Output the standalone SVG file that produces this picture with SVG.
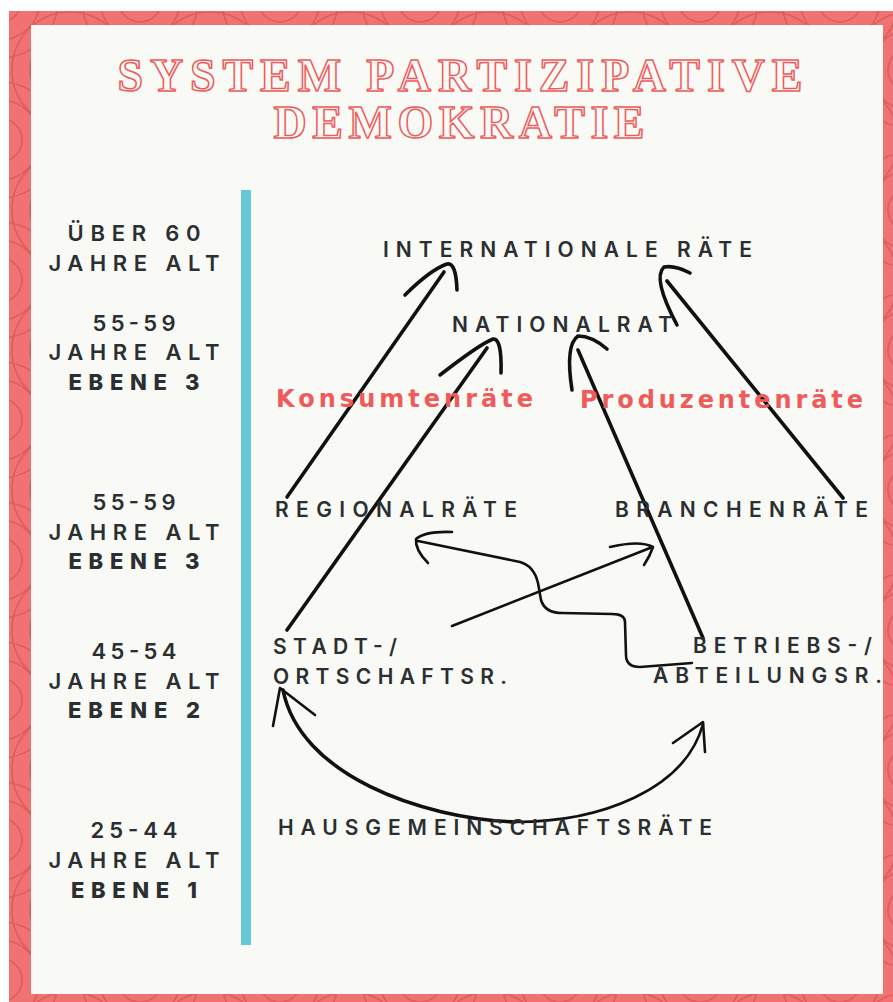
<svg xmlns="http://www.w3.org/2000/svg" width="893" height="1002" viewBox="0 0 893 1002">
<defs>
<pattern id="rings" x="0" y="0" width="140" height="140" patternUnits="userSpaceOnUse">
<rect width="140" height="140" fill="#f07272"/>
<g fill="none" stroke="#d85656" stroke-width="1.6" opacity="0.8">
<circle cx="70" cy="70" r="22"/><circle cx="70" cy="70" r="40"/><circle cx="70" cy="70" r="58"/>
<circle cx="0" cy="0" r="22"/><circle cx="0" cy="0" r="40"/><circle cx="0" cy="0" r="58"/>
<circle cx="140" cy="0" r="22"/><circle cx="140" cy="0" r="40"/><circle cx="140" cy="0" r="58"/>
<circle cx="0" cy="140" r="22"/><circle cx="0" cy="140" r="40"/><circle cx="0" cy="140" r="58"/>
<circle cx="140" cy="140" r="22"/><circle cx="140" cy="140" r="40"/><circle cx="140" cy="140" r="58"/>
</g>
</pattern>
<style>
.lab{font-family:"Inter","Open Sans","Liberation Sans",sans-serif;font-size:22px;fill:#2b2f31;text-anchor:middle}
.s{font-weight:600}
.b{font-weight:800}
.node{font-family:"Inter","Open Sans","Liberation Sans",sans-serif;font-size:21px;font-weight:600;fill:#2b2f31}
.red{font-family:"DejaVu Sans","Liberation Sans",sans-serif;font-size:24px;font-weight:700;fill:#ef5a5a}
.title{font-family:"Liberation Serif","DejaVu Serif",serif;font-size:46px;font-weight:700;fill:#f9faf6;stroke:#ee5b5b;stroke-width:1.5;text-anchor:middle}
.ln{fill:none;stroke:#111;stroke-width:3.6;stroke-linecap:round;stroke-linejoin:round}
.thin{stroke-width:2.6}
</style>
</defs>
<rect x="0" y="0" width="893" height="1002" fill="#ffffff"/>
<rect x="9" y="11" width="884" height="991" fill="url(#rings)"/>
<rect x="31" y="25" width="852" height="969" fill="#f9faf6"/>

<g id="title">
<text class="title" x="460" y="91" textLength="685" lengthAdjust="spacing">SYSTEM PARTIZIPATIVE</text>
<text class="title" x="459" y="138" textLength="371" lengthAdjust="spacing">DEMOKRATIE</text>
</g>

<rect id="axis" x="241" y="190" width="10" height="755" fill="#67c8d5"/>

<g id="age-labels">
<text class="lab s" x="134" y="241" textLength="133">ÜBER 60</text>
<text class="lab s" x="134" y="271" textLength="171">JAHRE ALT</text>
<text class="lab s" x="134" y="331" textLength="83">55-59</text>
<text class="lab s" x="134" y="360" textLength="171">JAHRE ALT</text>
<text class="lab b" x="134" y="390" textLength="131">EBENE 3</text>
<text class="lab s" x="134" y="510" textLength="83">55-59</text>
<text class="lab s" x="134" y="540" textLength="171">JAHRE ALT</text>
<text class="lab b" x="134" y="569" textLength="131">EBENE 3</text>
<text class="lab s" x="134" y="659" textLength="85">45-54</text>
<text class="lab s" x="134" y="689" textLength="171">JAHRE ALT</text>
<text class="lab b" x="134" y="718" textLength="132">EBENE 2</text>
<text class="lab s" x="134" y="838" textLength="87">25-44</text>
<text class="lab s" x="134" y="868" textLength="171">JAHRE ALT</text>
<text class="lab b" x="134" y="898" textLength="126">EBENE 1</text>
</g>

<g id="connectors">
<path class="ln" d="M287,497 L444,272"/>
<path class="ln" d="M405,295 Q430,270 447,264 Q456,262 457,290"/>
<path class="ln" d="M287,630 L487,348"/>
<path class="ln" d="M440,375 Q480,344 493,339 Q502,338 501,373"/>
<path class="ln" d="M703,638 L578,350"/>
<path class="ln" d="M572,390 Q565,345 578,336 Q592,336 607,349"/>
<path class="ln" d="M843,498 L667,281"/>
<path class="ln" d="M677,325 Q652,278 664,267 Q675,265 690,273"/>
<path class="ln thin" d="M692,663 L640,667 Q626,667 626,655 L625,622 Q625,614 612,614 L562,613 Q545,613 541,600 L538,583 Q534,566 520,562 L418,541"/>
<path class="ln thin" d="M452,532 Q425,531 416,539 Q415,550 428,563"/>
<path class="ln thin" d="M452,626 L650,548"/>
<path class="ln thin" d="M610,547 Q640,540 653,547 Q650,556 644,565"/>
<path class="ln" d="M515,822 C420,818 300,775 283,690"/>
<path class="ln thin" d="M273,726 L280,688 L315,715"/>
<path class="ln thin" d="M515,822 C600,822 685,790 703,724"/>
<path class="ln thin" d="M673,743 L703,722 L705,752"/>
</g>

<g id="node-international"><text class="node" x="383" y="257" textLength="369">INTERNATIONALE RÄTE</text></g>
<g id="node-national"><text class="node" x="452" y="332" textLength="220">NATIONALRAT</text></g>
<g id="label-konsum"><text class="red" x="276" y="407" textLength="257">Konsumtenräte</text></g>
<g id="label-produzent"><text class="red" x="580" y="408" textLength="283">Produzentenräte</text></g>
<g id="node-regional"><text class="node" x="275" y="517" textLength="242">REGIONALRÄTE</text></g>
<g id="node-branchen"><text class="node" x="615" y="517" textLength="253">BRANCHENRÄTE</text></g>
<g id="node-stadt">
<text class="node" x="273" y="654" textLength="124">STADT-/</text>
<text class="node" x="273" y="684" textLength="234">ORTSCHAFTSR.</text>
</g>
<g id="node-betrieb">
<text class="node" x="693" y="653" textLength="179">BETRIEBS-/</text>
<text class="node" x="653" y="683" textLength="229">ABTEILUNGSR.</text>
</g>
<g id="node-haus"><text class="node" x="278" y="835" textLength="434">HAUSGEMEINSCHAFTSRÄTE</text></g>
</svg>
